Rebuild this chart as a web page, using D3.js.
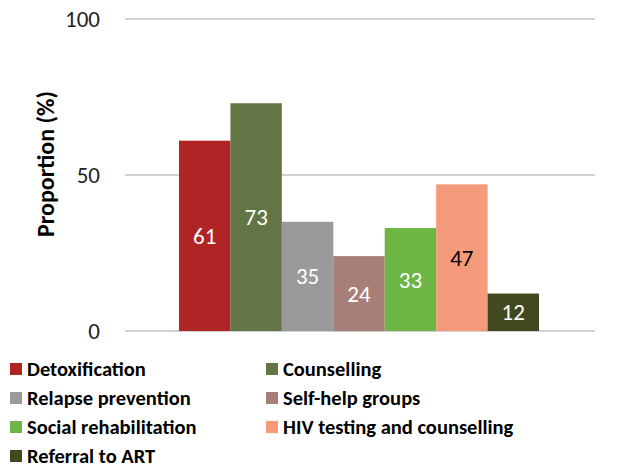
<!DOCTYPE html>
<html>
<head>
<meta charset="utf-8">
<script src="https://d3js.org/d3.v7.min.js"></script>
<style>
  body { margin: 0; background: #fff; font-family: Carlito, Calibri, Lato, sans-serif; }
</style>
</head>
<body>
<div id="chart"></div>
<script>
// categories and values
var categories = ["Detoxification", "Counselling", "Relapse prevention", "Self-help groups",
                  "Social rehabilitation", "HIV testing and counselling", "Referral to ART"];
var values = [61, 73, 35, 24, 33, 47, 12];
var colors = ["#B02425", "#637544", "#999B9B", "#A77F78", "#6DB545", "#F59B7B", "#414A1E"];
var labelColors = ["#fff", "#fff", "#fff", "#fff", "#fff", "#000", "#fff"];
var yTicks = [0, 50, 100];

var width = 633, height = 468;
var svg = d3.select("#chart").append("svg")
  .attr("width", width).attr("height", height);

var y = d3.scaleLinear().domain([0, 100]).range([331, 19]);
var x = d3.scaleBand().domain(categories).range([179, 539]).padding(0);

// gridlines
svg.append("g").selectAll("line").data(yTicks).enter().append("line")
  .attr("x1", 125).attr("x2", 595)
  .attr("y1", function(d) { return y(d); }).attr("y2", function(d) { return y(d); })
  .attr("stroke", "#d0d0d0").attr("stroke-width", 2);

// y tick labels
svg.append("g").selectAll("text").data(yTicks).enter().append("text")
  .attr("x", 100).attr("y", function(d) { return y(d); })
  .attr("dy", "0.35em").attr("text-anchor", "end")
  .style("font-size", "23px").attr("fill", "#222")
  .text(function(d) { return d; });

// axis title
svg.append("text")
  .attr("transform", "translate(46,164) rotate(-90)")
  .attr("text-anchor", "middle").attr("dy", "0.35em")
  .style("font-size", "24px").style("font-weight", "bold")
  .text("Proportion (%)");

// bars
svg.append("g").selectAll("rect").data(values).enter().append("rect")
  .attr("x", function(d, i) { return x(categories[i]); })
  .attr("y", function(d) { return y(d); })
  .attr("width", x.bandwidth())
  .attr("height", function(d) { return y(0) - y(d); })
  .attr("fill", function(d, i) { return colors[i]; });

// value labels
svg.append("g").selectAll("text").data(values).enter().append("text")
  .attr("x", function(d, i) { return x(categories[i]) + x.bandwidth() / 2; })
  .attr("y", function(d) { return (y(d) + y(0)) / 2; })
  .attr("dy", "0.35em").attr("text-anchor", "middle")
  .style("font-size", "23px")
  .attr("fill", function(d, i) { return labelColors[i]; })
  .text(function(d) { return d; });

// legend
var legend = svg.append("g").selectAll("g").data(categories).enter().append("g")
  .attr("transform", function(d, i) {
    return "translate(" + (i % 2 === 0 ? 10 : 266) + "," + (369 + Math.floor(i / 2) * 29) + ")";
  });
legend.append("rect")
  .attr("x", 0).attr("y", -6).attr("width", 12).attr("height", 12)
  .attr("fill", function(d, i) { return colors[i]; });
legend.append("text")
  .attr("x", 17).attr("dy", "0.35em")
  .style("font-size", "20.5px").style("font-weight", "bold")
  .text(function(d) { return d; });
</script>
</body>
</html>
